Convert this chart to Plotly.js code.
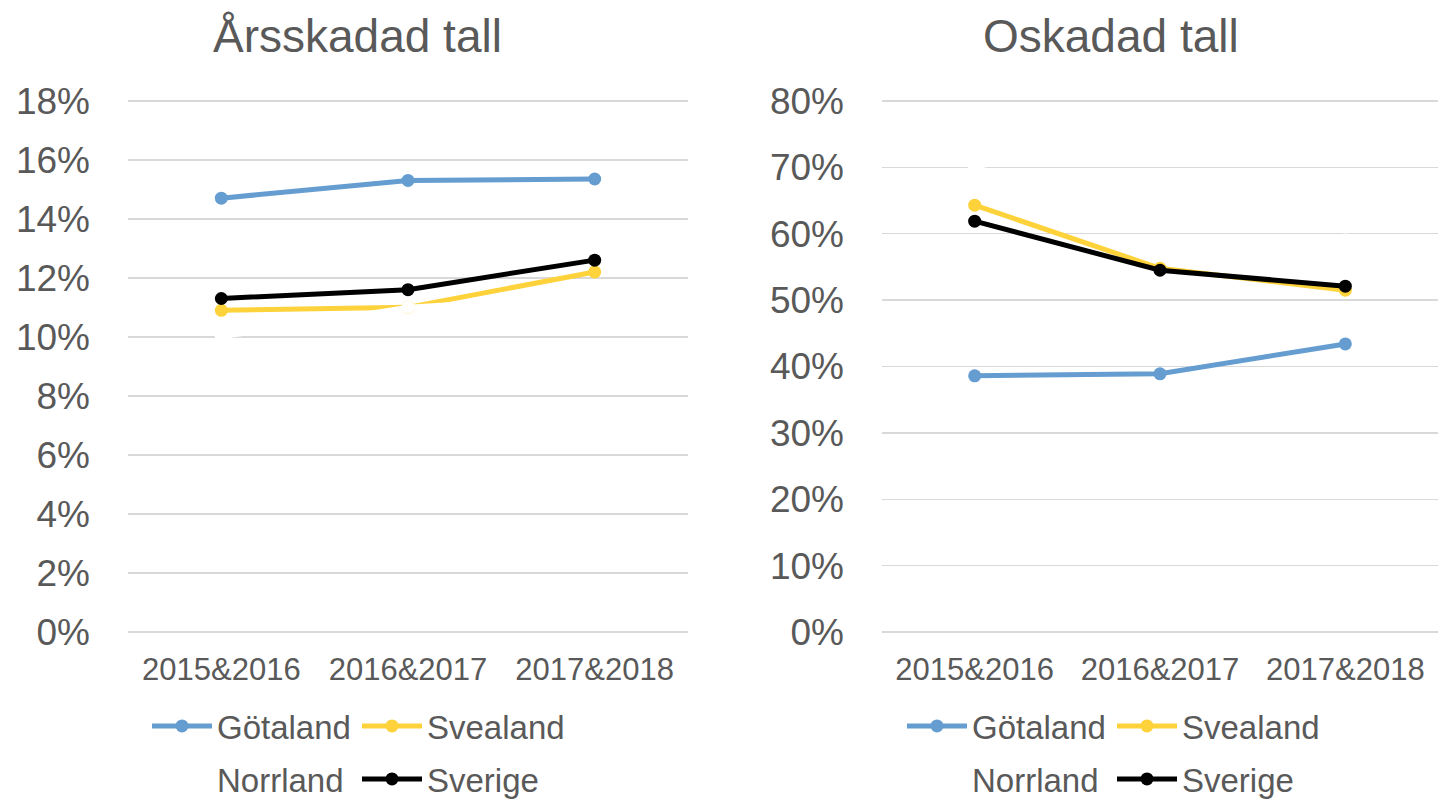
<!DOCTYPE html>
<html>
<head>
<meta charset="utf-8">
<script src="https://cdn.plot.ly/plotly-3.0.1.min.js"></script>
<style>
html,body{margin:0;padding:0;background:#fff;}
#chart{width:1439px;height:802px;}
</style>
</head>
<body>
<div id="chart"></div>
<script>
// Data
const categories = ["2015&2016", "2016&2017", "2017&2018"];
const seriesNames = ["Götaland", "Svealand", "Norrland", "Sverige"];
const seriesColors = ["#659DD0", "#FDD23A", "#FFFFFF", "#000000"];

// Årsskadad tall (left)
const arsGotaland = [0.147, 0.153, 0.1535];
const arsSvealand = [0.109, 0.110, 0.122];
const arsNorrland = [0.100, 0.110, 0.114];
const arsSverige  = [0.113, 0.116, 0.126];

// Oskadad tall (right)
const oskGotaland = [0.386, 0.389, 0.434];
const oskSvealand = [0.643, 0.548, 0.515];
const oskNorrland = [0.700, 0.630, 0.610];
const oskSverige  = [0.619, 0.545, 0.521];

const titles = ["Årsskadad tall", "Oskadad tall"];

const FONT = "Arial, 'Liberation Sans', sans-serif";
const GREY = "#595959";

const W = 1439, H = 802;
const leftSets = [arsGotaland, arsSvealand, arsNorrland, arsSverige];
const rightSets = [oskGotaland, oskSvealand, oskNorrland, oskSverige];

const traces = [];
function addTraces(sets, xa, ya, legRow1, legRow2) {
  sets.forEach((vals, i) => {
    traces.push({
      type: "scatter",
      mode: "lines+markers",
      x: categories,
      y: vals,
      name: seriesNames[i],
      xaxis: xa, yaxis: ya,
      line: {color: seriesColors[i], width: 5},
      marker: {color: seriesColors[i], size: 13},
      legend: i < 2 ? legRow1 : legRow2,
      hoverinfo: "skip"
    });
  });
}
addTraces(leftSets, "x", "y", "legend", "legend2");
addTraces(rightSets, "x2", "y2", "legend3", "legend4");

const ydom = [1 - 632 / H, 1 - 99 / H];

function yaxisCfg(range, dtick, anchor) {
  return {
    range: range, dtick: dtick, tick0: 0, tickformat: ".0%",
    domain: ydom, anchor: anchor,
    showgrid: true, gridcolor: "#D9D9D9", gridwidth: 1.5,
    zeroline: true, zerolinecolor: "#D9D9D9", zerolinewidth: 1.5,
    showline: false, ticks: "",
    tickfont: {family: FONT, size: 37, color: GREY},
    ticklabelstandoff: 37,
    automargin: false,
    fixedrange: true
  };
}
function xaxisCfg(domain, anchor) {
  return {
    type: "category", range: [-0.5, 2.5], domain: domain, anchor: anchor,
    showgrid: false, zeroline: false, showline: false, ticks: "",
    tickfont: {family: FONT, size: 31, color: GREY},
    ticklabelstandoff: 16,
    automargin: false,
    fixedrange: true
  };
}

function legendCfg(xpx, ypx) {
  return {
    orientation: "h",
    x: xpx / W, xanchor: "left",
    y: 1 - ypx / H, yanchor: "middle",
    font: {family: FONT, size: 33, color: GREY},
    bgcolor: "rgba(0,0,0,0)",
    itemwidth: 60,
    entrywidthmode: "pixels",
    entrywidth: 135,
    traceorder: "normal",
    itemclick: false, itemdoubleclick: false
  };
}

const layout = {
  width: W, height: H,
  margin: {l: 0, r: 0, t: 0, b: 0, autoexpand: false},
  paper_bgcolor: "#FFFFFF",
  plot_bgcolor: "#FFFFFF",
  font: {family: FONT, color: GREY},
  showlegend: true,
  xaxis: xaxisCfg([128 / W, 688 / W], "y"),
  yaxis: yaxisCfg([0, 0.1806], 0.02, "x"),
  xaxis2: xaxisCfg([882 / W, 1438 / W], "y2"),
  yaxis2: yaxisCfg([0, 0.803], 0.1, "x2"),
  legend: legendCfg(147, 726),
  legend2: legendCfg(147, 779),
  legend3: legendCfg(902, 726),
  legend4: legendCfg(902, 779),
  annotations: [
    {text: titles[0], x: 357 / W, y: 1 - 36 / H, xref: "paper", yref: "paper",
     xanchor: "center", yanchor: "middle", showarrow: false,
     font: {family: FONT, size: 46, color: GREY}},
    {text: titles[1], x: 1111 / W, y: 1 - 36 / H, xref: "paper", yref: "paper",
     xanchor: "center", yanchor: "middle", showarrow: false,
     font: {family: FONT, size: 46, color: GREY}}
  ]
};

Plotly.newPlot("chart", traces, layout, {displayModeBar: false, staticPlot: true});
</script>
</body>
</html>
